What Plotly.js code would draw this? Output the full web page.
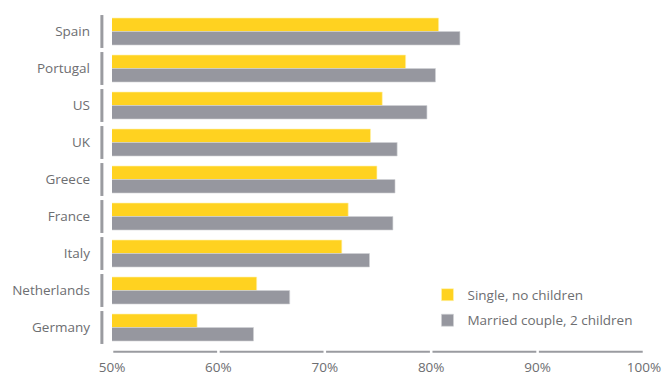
<!DOCTYPE html>
<html>
<head>
<meta charset="utf-8">
<script src="https://cdn.plot.ly/plotly-3.0.1.min.js"></script>
<style>html,body{margin:0;padding:0;background:#fff}#chart{width:663px;height:374px}</style>
</head>
<body>
<div id="chart"></div>
<script>
const countries = ["Spain","Portugal","US","UK","Greece","France","Italy","Netherlands","Germany"];
const singleNoChildren = [80.7, 77.6, 75.4, 74.3, 74.9, 72.2, 71.6, 63.6, 58.0];
const marriedTwoChildren = [82.7, 80.4, 79.6, 76.8, 76.6, 76.4, 74.2, 66.7, 63.3];
const seriesNames = ["Single, no children", "Married couple, 2 children"];
const xTicks = [50, 60, 70, 80, 90, 100];
const xTickText = ["50%", "60%", "70%", "80%", "90%", "100%"];

const yellow = "#FFD220";
const grey = "#96979F";
const axisGrey = "#9A9BA0";
const textGrey = "#6D6E71";

const traces = [
  {type: "bar", orientation: "h", name: seriesNames[0], y: countries, x: singleNoChildren,
   marker: {color: yellow, line: {color: "#FFF3B0", width: 0.6}}, legendgroup: "a", hoverinfo: "x+y"},
  {type: "bar", orientation: "h", name: seriesNames[1], y: countries, x: marriedTwoChildren,
   marker: {color: grey, line: {color: "#D0D1D5", width: 0.6}}, legendgroup: "b", hoverinfo: "x+y"}
];

const shapes = [];
countries.forEach((c, i) => {
  shapes.push({type: "line", xref: "paper", yref: "y", x0: -0.019, x1: -0.019, y0: i - 0.445, y1: i + 0.445,
    line: {color: axisGrey, width: 3}});
});
for (let k = 0; k < xTicks.length - 1; k++) {
  shapes.push({type: "line", xref: "x", yref: "paper", x0: xTicks[k] + 0.12, x1: xTicks[k + 1] - 0.12, y0: -0.017, y1: -0.017,
    line: {color: axisGrey, width: 2}});
}

const layout = {
  width: 663, height: 374,
  margin: {l: 112, r: 18.5, t: 12.5, b: 27.5},
  paper_bgcolor: "#fff", plot_bgcolor: "#fff",
  font: {family: "Open Sans, sans-serif", size: 13.5, color: textGrey},
  barmode: "group", bargap: 0.27, bargroupgap: 0,
  xaxis: {range: [50, 100], tickvals: xTicks, ticktext: xTickText, showgrid: false, zeroline: false,
    showline: false, ticks: "", ticklabelstandoff: 11, tickfont: {size: 13.5, color: textGrey}, fixedrange: true},
  yaxis: {type: "category", categoryorder: "array", categoryarray: countries, autorange: "reversed",
    showgrid: false, zeroline: false, showline: false, ticks: "", ticklabelstandoff: 21,
    tickfont: {size: 13.5, color: textGrey}, fixedrange: true},
  legend: {x: 0.593, y: 0.2, xanchor: "left", yanchor: "top", bgcolor: "rgba(0,0,0,0)",
    font: {size: 13.5, color: textGrey}, traceorder: "grouped", tracegroupgap: 5},
  showlegend: true,
  shapes: shapes
};

Plotly.newPlot("chart", traces, layout, {displayModeBar: false, staticPlot: true});
</script>
</body>
</html>
